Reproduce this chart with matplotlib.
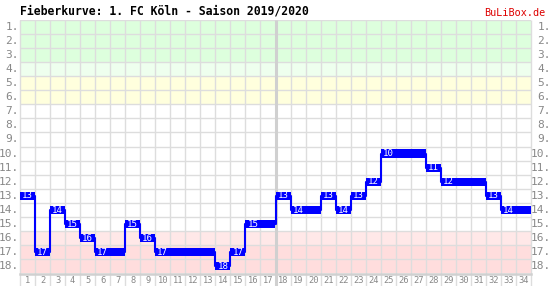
import matplotlib
matplotlib.use("Agg")
import matplotlib.pyplot as plt
from matplotlib.patches import Rectangle

matchdays = list(range(1, 35))
ranks = [13, 17, 14, 15, 16, 17, 17, 15, 16, 17, 17, 17, 17, 18, 17, 15, 15,
         13, 14, 14, 13, 14, 13, 12, 10, 10, 10, 11, 12, 12, 12, 13, 14, 14]
rank_labels = [f"{i}." for i in range(1, 19)]
title = "Fieberkurve: 1. FC Köln - Saison 2019/2020"
brand = "BuLiBox.de"

# zone colours by rank
zones = {1: "#ddffdd", 2: "#ddffdd", 3: "#ddffdd", 4: "#eeffee",
         5: "#ffffdd", 6: "#ffffdd", 16: "#ffe8e8", 17: "#ffdddd", 18: "#ffdddd"}

W, H = 551, 286
fig = plt.figure(figsize=(W / 100, H / 100), dpi=100)
left, right, top, bottom = 20, 531, 20, 273
ax = fig.add_axes([left / W, 1 - bottom / H, (right - left) / W, (bottom - top) / H])
ax.set_xlim(0.5, 34.5)
ax.set_ylim(18.5, 0.5)
for s in ax.spines.values():
    s.set_visible(False)
ax.set_xticks([])
ax.set_yticks([])

grid_c = "#dddddd"
for r, c in zones.items():
    ax.add_patch(Rectangle((0.5, r - 0.5), 34, 1, facecolor=c, edgecolor="none", zorder=0))

for r in range(1, 19):
    ax.axhline(r - 0.5, color=grid_c, lw=1.0, zorder=1)
for k in range(0, 35):
    x = k + 0.5
    lw = 2.2 if k == 17 else 1.0
    ax.plot([x, x], [0.5, 19.6], color=grid_c if k != 17 else "#d0d0d0", lw=lw,
            zorder=1, clip_on=False, solid_capstyle="butt")
ax.plot([0.5, 34.5], [18.55, 18.55], color="#d0d0d0", lw=1.8, zorder=1, clip_on=False)

fm = "DejaVu Sans Mono"
axw = right - left
for i, lab in enumerate(rank_labels):
    ax.text(-1.0 / axw, i + 1, lab, ha="right", va="center", fontsize=8.0, family=fm,
            color="#888888", transform=ax.get_yaxis_transform(), clip_on=False)
    ax.text(1 + 20 / axw, i + 1, lab, ha="right", va="center", fontsize=8.0, family=fm,
            color="#888888", transform=ax.get_yaxis_transform(), clip_on=False)
for m in matchdays:
    ax.text(m, 19.05, str(m), ha="center", va="center", fontsize=6.3, family=fm,
            color="#888888", clip_on=False)

blue = "#0000ff"
ax.step(matchdays, ranks, where="mid", color=blue, lw=1.5, zorder=3)
ax.bar(matchdays, [0.58] * len(ranks), bottom=[r - 0.29 for r in ranks], width=1.0,
       color=blue, zorder=4, linewidth=0)
prev = None
for m, r in zip(matchdays, ranks):
    if r != prev:
        ax.text(m, r + 0.02, str(r), ha="center", va="center", fontsize=6.6, family=fm,
                color="white", zorder=5)
    prev = r

fig.text(20 / W, 1 - 11 / H, title, ha="left", va="center", fontsize=8.3, family=fm,
         weight="bold", color="black")
fig.text(545 / W, 1 - 13 / H, brand, ha="right", va="center", fontsize=7.3, family=fm,
         color="#dd0000")

fig.savefig("out.png", dpi=100)
